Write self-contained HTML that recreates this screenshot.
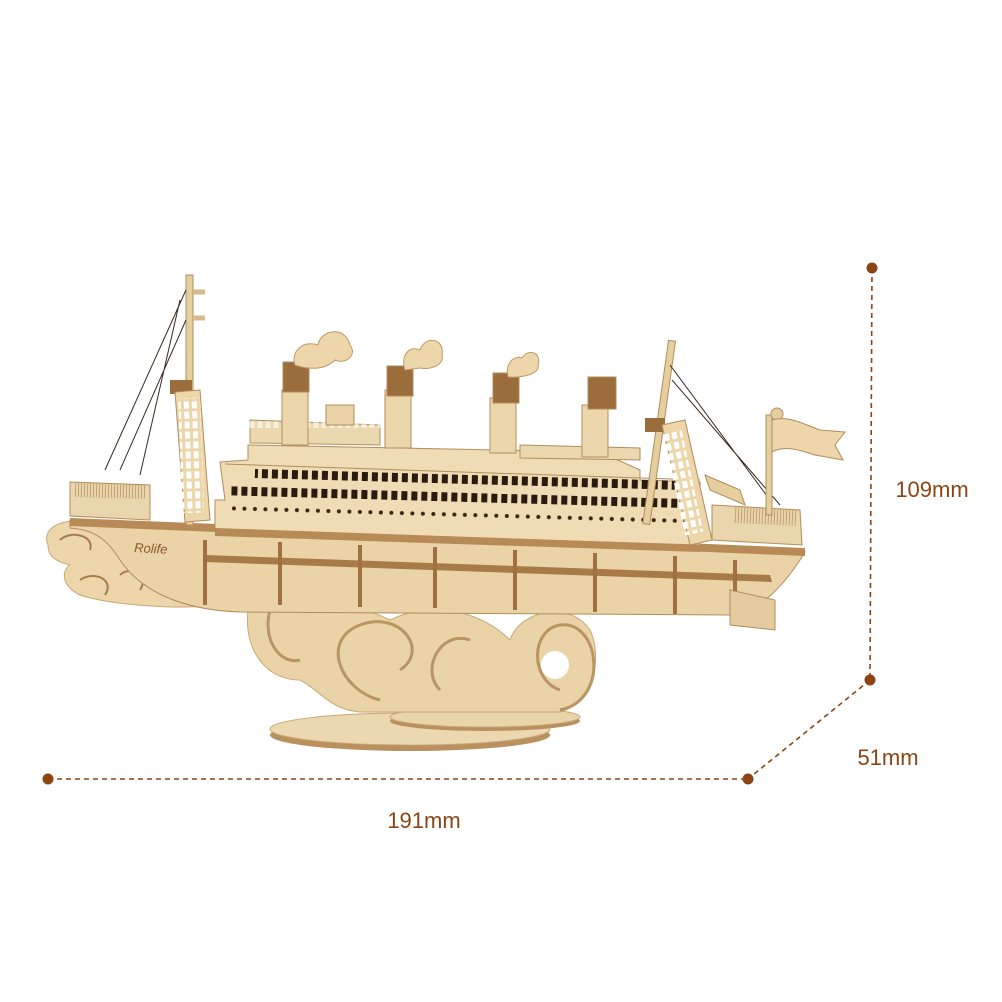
<!DOCTYPE html>
<html><head><meta charset="utf-8"><style>
html,body{margin:0;padding:0;background:#fff;}
svg{display:block}
text{font-family:"Liberation Sans",sans-serif;}
</style></head><body>
<svg width="1002" height="1002" viewBox="0 0 1002 1002" xmlns="http://www.w3.org/2000/svg">
<defs>
<pattern id="win" x="0" y="0" width="10" height="9" patternUnits="userSpaceOnUse"><rect x="2" y="0" width="6" height="9" fill="#2a1a10"/></pattern>
<pattern id="port" x="0" y="0" width="10.5" height="8" patternUnits="userSpaceOnUse"><circle cx="4" cy="4" r="2" fill="#3a2414"/></pattern>
<pattern id="ladder" x="0" y="0" width="8" height="10" patternUnits="userSpaceOnUse"><rect x="1.5" y="1.5" width="5" height="7" fill="#fff"/></pattern>
</defs>
<g stroke="#8B4513" stroke-width="1.6" stroke-dasharray="5,4" fill="none">
<line x1="872" y1="268" x2="870" y2="680"/>
<line x1="870" y1="680" x2="748" y2="779"/>
<line x1="48" y1="779" x2="748" y2="779"/>
</g>
<g fill="#8B4513">
<circle cx="872" cy="268" r="5.5"/><circle cx="870" cy="680" r="5.5"/>
<circle cx="748" cy="779" r="5.5"/><circle cx="48" cy="779" r="5.5"/>
<text x="932" y="497" font-size="22" text-anchor="middle">109mm</text>
<text x="888" y="765" font-size="22" text-anchor="middle">51mm</text>
<text x="424" y="828" font-size="22" text-anchor="middle">191mm</text>
</g>
<ellipse cx="410" cy="735" rx="140" ry="16" fill="#b9915e"/>
<ellipse cx="410" cy="729" rx="140" ry="16" fill="#ecd8b0" stroke="#c9a777"/>
<ellipse cx="485" cy="721" rx="95" ry="10" fill="#b9915e"/>
<ellipse cx="485" cy="717" rx="95" ry="10" fill="#ead5ab" stroke="#c9a777"/>
<path d="M250 600 C240 640 260 680 300 680 C320 690 330 710 360 712 L560 712 C600 700 600 650 590 630 C570 600 520 610 510 640 C480 610 430 600 390 620 C350 600 320 600 300 600 Z" fill="#ead3a6" stroke="#c9a777"/>
<path d="M560 710 C610 700 600 620 560 625 C530 630 530 680 560 690" fill="none" stroke="#b99563" stroke-width="3"/>
<circle cx="555" cy="665" r="14" fill="#fff"/>
<path d="M380 700 C340 690 320 640 360 625 C400 610 430 650 400 670" fill="none" stroke="#b99563" stroke-width="3"/>
<path d="M270 610 C262 640 280 665 300 660" fill="none" stroke="#b99563" stroke-width="3"/>
<path d="M440 690 C420 670 440 630 470 640" fill="none" stroke="#b99563" stroke-width="3"/>
<path d="M48 545 C40 525 70 515 95 525 C120 535 140 560 170 570 C200 590 215 600 215 605 C180 610 110 605 80 595 C60 585 62 570 70 565 C50 560 48 552 48 545 Z" fill="#ecd6aa" stroke="#c9a777"/>
<path d="M60 540 C70 530 95 535 90 550 M80 580 C95 570 115 580 105 595 M120 575 C130 565 150 575 140 590" fill="none" stroke="#a67c4a" stroke-width="2"/>
<path d="M70 520 L805 552 L800 560 C780 590 760 610 730 615 L240 612 C180 610 140 590 120 560 C110 545 100 530 70 528 Z" fill="#e9d3a7" stroke="#b38c5c"/>
<path d="M205 555 L770 575 L772 582 L205 562 Z" fill="#a87a48"/>
<path d="M205 540 L205 605 M280 542 L280 605 M360 545 L360 607 M435 547 L435 608 M515 550 L515 610 M595 553 L595 612 M675 556 L675 614 M735 560 L735 614" stroke="#a0713e" stroke-width="4"/>
<path d="M70 518 L805 548 L805 556 L70 526 Z" fill="#b88a56"/>
<path d="M730 590 L775 600 L775 630 L730 625 Z" fill="#e4cc9e" stroke="#b38c5c"/>
<text x="134" y="552" font-size="13" font-style="italic" fill="#8a5a2a" transform="rotate(3 134 552)" font-family="Liberation Serif,serif">Rolife</text>
<path d="M70 482 L150 485 L150 520 L70 516 Z" fill="#ead6ad" stroke="#b38c5c"/>
<path d="M75 490 L145 492" stroke="#c3a070" stroke-dasharray="1,2" stroke-width="14"/>
<path d="M712 505 L800 510 L802 545 L712 540 Z" fill="#ead6ad" stroke="#b38c5c"/>
<path d="M735 515 L798 518" stroke="#c3a070" stroke-dasharray="1,2" stroke-width="16"/>
<path d="M220 462 L248 460 L248 445 L600 452 L640 470 L640 480 L700 482 L700 545 L215 530 L215 500 L225 500 Z" fill="#efdcb4" stroke="#b38c5c"/>
<path d="M250 420 L380 425 L380 445 L250 443 Z" fill="#ecd8ae" stroke="#b38c5c"/>
<rect x="248" y="420" width="135" height="8" fill="url(#ladder)" opacity="0.6"/>
<rect x="326" y="405" width="28" height="20" fill="#e8d2a6" stroke="#b38c5c"/>
<path d="M520 445 L640 448 L640 460 L520 458 Z" fill="#ecd8ae" stroke="#b38c5c"/>
<path d="M225 464 L700 480" stroke="#b38c5c"/>
<g transform="rotate(1.6 220 470)">
<rect x="255" y="468" width="420" height="9" fill="url(#win)"/>
<rect x="232" y="486" width="450" height="9" fill="url(#win)"/>
<rect x="232" y="504" width="455" height="8" fill="url(#port)"/>
</g>
<path d="M215 528 L700 545 L700 552 L215 536 Z" fill="#b88a56"/>
<g stroke="#b38c5c">
<rect x="282" y="390" width="26" height="55" fill="#ecd7ac"/>
<rect x="283" y="362" width="26" height="30" fill="#9b6d3c"/>
<rect x="385" y="390" width="26" height="58" fill="#ecd7ac"/>
<rect x="387" y="366" width="26" height="30" fill="#9b6d3c"/>
<rect x="490" y="398" width="26" height="55" fill="#ecd7ac"/>
<rect x="493" y="373" width="26" height="30" fill="#9b6d3c"/>
<rect x="582" y="405" width="26" height="52" fill="#ecd7ac"/>
<rect x="588" y="377" width="28" height="32" fill="#9b6d3c"/>
</g>
<g fill="#ecd6aa" stroke="#c19a68">
<path d="M295 365 C290 350 305 340 318 345 C320 330 345 325 350 345 C358 355 345 365 335 360 C325 370 310 370 295 365 Z"/>
<path d="M405 370 C400 355 410 345 420 350 C425 335 445 338 442 355 C445 365 430 370 420 368 Z"/>
<path d="M508 377 C505 362 515 355 522 358 C528 348 542 352 538 365 C540 373 525 378 508 377 Z"/>
</g>
<rect x="186" y="275" width="7" height="250" fill="#e6cf9f" stroke="#b38c5c"/>
<path d="M193 292 L205 292 M193 318 L205 318" stroke="#d7bb8a" stroke-width="5"/>
<rect x="170" y="380" width="22" height="14" fill="#9b6d3c"/>
<path d="M175 392 L200 390 L210 520 L185 522 Z" fill="#ecd6aa" stroke="#b38c5c"/>
<rect x="180" y="398" width="22" height="115" fill="url(#ladder)" transform="rotate(-2 190 450)"/>
<path d="M186 290 L105 470 M186 320 L120 470 M180 300 L140 475" stroke="#3a2a1e" stroke-width="1"/>
<rect x="656" y="340" width="7" height="185" fill="#e6cf9f" stroke="#b38c5c" transform="rotate(8 660 430)"/>
<rect x="645" y="418" width="20" height="14" fill="#9b6d3c"/>
<path d="M662 425 L685 420 L712 540 L690 545 Z" fill="#ecd6aa" stroke="#b38c5c"/>
<rect x="672" y="430" width="20" height="105" fill="url(#ladder)" transform="rotate(-12 682 480)"/>
<path d="M670 365 L770 500 M672 380 L780 505" stroke="#3a2a1e" stroke-width="1"/>
<path d="M705 475 L740 490 L745 505 L710 490 Z" fill="#e6cf9f" stroke="#b38c5c"/>
<rect x="766" y="415" width="6" height="100" fill="#e6cf9f" stroke="#b38c5c"/>
<circle cx="777" cy="414" r="6" fill="#e6cf9f" stroke="#b38c5c"/>
<path d="M772 420 C790 415 805 425 820 430 L845 432 L835 445 L843 460 L815 455 C800 450 785 445 772 452 Z" fill="#ecd6aa" stroke="#b38c5c"/>
</svg>
</body></html>
